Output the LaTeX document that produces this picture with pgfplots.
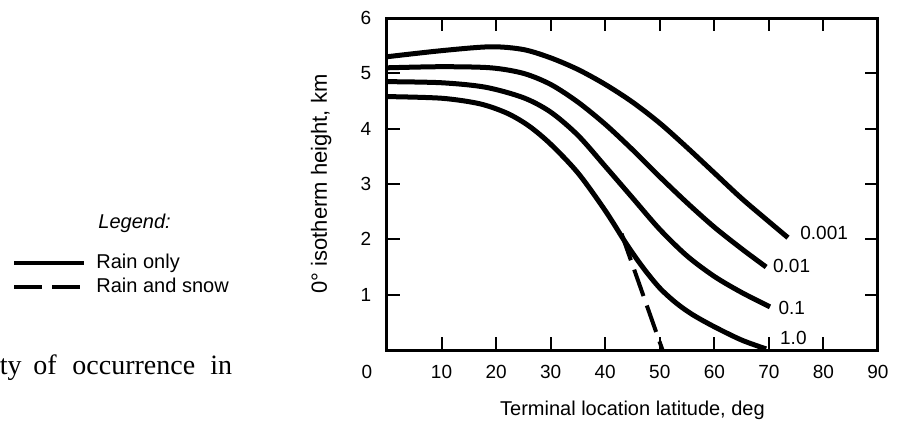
\documentclass[border=0pt]{standalone}
\usepackage{fontspec}
\setmainfont{Liberation Sans}
\newfontfamily\capserif{Liberation Serif}
\usepackage{pgfplots}
\usepackage{pgfplotstable}
\pgfplotsset{compat=1.18}

% 0 deg isotherm height (km) vs latitude (deg), one table per probability (%)
\pgfplotstableread{
x y
0 5.30
10 5.41
19 5.48
25 5.43
30 5.28
35 5.07
40 4.80
45 4.48
50 4.10
55 3.66
60 3.20
65 2.74
70 2.32
73.5 2.03
}\pthousandth
\pgfplotstableread{
x y
0 5.10
10 5.12
19 5.10
25 5.00
30 4.80
35 4.48
40 4.08
45 3.62
50 3.13
55 2.66
60 2.22
65 1.83
69.5 1.50
}\phundredth
\pgfplotstableread{
x y
0 4.85
10 4.83
18 4.75
25 4.56
30 4.30
35 3.88
40 3.32
45 2.75
50 2.18
55 1.70
60 1.33
65 1.04
70.2 0.78
}\ptenth
\pgfplotstableread{
x y
0 4.58
10 4.55
17 4.45
22 4.28
26 4.05
30 3.72
35 3.20
40 2.52
44 1.90
47 1.48
50 1.12
53 0.85
56 0.64
60 0.42
65 0.18
69.5 0.02
}\pone
\pgfplotstableread{
x y
43 2.10
50.5 0.00
}\snow

\pgfplotsset{longline/.style={legend image code/.code={\draw[##1] (0pt,0pt) -- (35pt,0pt);}}}

\begin{document}
\begin{tikzpicture}
\useasboundingbox (0,0) rectangle (450.5pt,212pt);
\begin{axis}[
  at={(193.5pt,37pt)}, anchor=south west,
  scale only axis, width=245.5pt, height=166pt,
  xmin=0, xmax=90, ymin=0, ymax=6,
  xtick={10,20,...,90}, ytick={1,...,6},
  tick align=inside, major tick length=6.5pt,
  axis line style={line width=1.5pt},
  every tick/.style={black, line width=1pt},
  tick label style={font=\fontsize{9.5}{10}\selectfont},
  /pgf/number format/assume math mode=true,
  xticklabel style={anchor=center, yshift=-11pt},
  yticklabel style={anchor=center, xshift=-10.5pt},
  xlabel={Terminal location latitude, deg},
  ylabel={0° isotherm height, km},
  xlabel style={font=\fontsize{10}{12}\selectfont, at={(axis description cs:0.5,-0.181)}, anchor=center},
  ylabel style={font=\fontsize{11}{13}\selectfont, at={(axis description cs:-0.134,0.5)}, anchor=center},
  clip=false,
  legend style={at={(axis description cs:-0.7637,0.226)}, anchor=west,
    draw=none, fill=none, inner sep=0pt,
    font=\fontsize{10}{12}\selectfont,
    nodes={inner sep=1pt},
    row sep=1pt,
    /tikz/every odd column/.append style={column sep=4pt}},
  legend cell align=left,
  every axis plot/.append style={black, line width=2.5pt, line join=round},
]
\addlegendimage{black, line width=2pt, longline}
\addlegendentry{Rain only}
\addlegendimage{black, line width=2pt, dash pattern=on 14pt off 5pt, longline}
\addlegendentry{Rain and snow}

\addplot[smooth] table {\pthousandth};
\addplot[smooth] table {\phundredth};
\addplot[smooth] table {\ptenth};
\addplot[smooth] table {\pone};
\addplot[line width=2pt, dash pattern=on 14pt off 5pt] table {\snow};

\node[font=\fontsize{9.5}{10}\selectfont, xshift=-10pt, yshift=-11pt] at (axis cs:0,0) {0};
\node[anchor=west, inner sep=0pt, font=\fontsize{9.5}{10}\selectfont] at (axis cs:75.7,2.11) {0.001};
\node[anchor=west, inner sep=0pt, font=\fontsize{9.5}{10}\selectfont] at (axis cs:70.7,1.52) {0.01};
\node[anchor=west, inner sep=0pt, font=\fontsize{9.5}{10}\selectfont] at (axis cs:71.7,0.76) {0.1};
\node[anchor=west, inner sep=0pt, font=\fontsize{9.5}{10}\selectfont] at (axis cs:72.0,0.22) {1.0};
\end{axis}
\node[anchor=west, inner sep=0pt, font=\fontsize{10}{12}\selectfont\itshape] at (49pt,100.5pt) {Legend:};
\begin{scope}[font=\capserif\fontsize{14}{16}\selectfont, inner sep=0pt]
\node[anchor=base east] at (11pt,25pt) {ty};
\node[anchor=base west] at (16.5pt,25pt) {of};
\node[anchor=base west] at (36pt,25pt) {occurrence};
\node[anchor=base west] at (105pt,25pt) {in};
\end{scope}
\end{tikzpicture}
\end{document}
